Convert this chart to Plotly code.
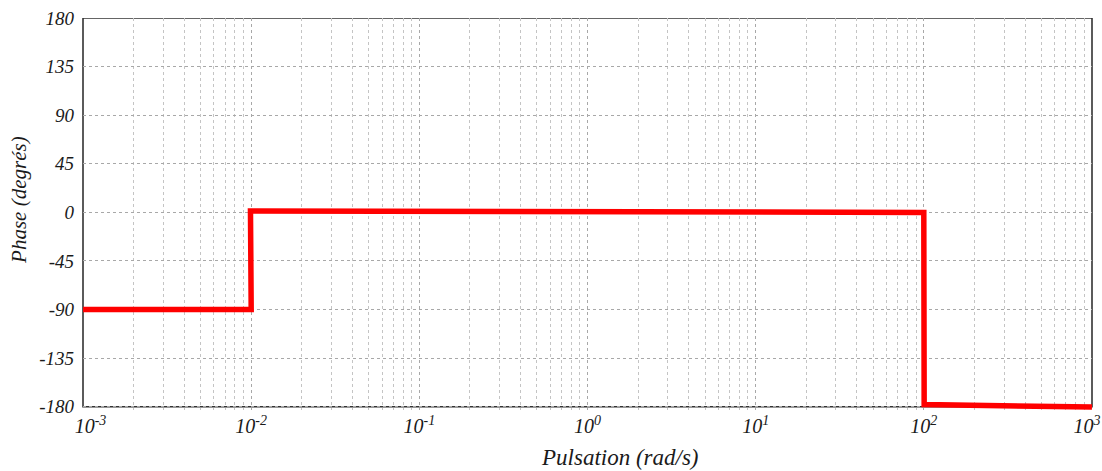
import plotly.graph_objects as go

# Data
omega = [0.001, 0.01, 0.0099, 100.0, 100.5, 1000.0]
phase = [-90, -90, 1.2, 0.0, -178.0, -180.3]

y_tick_vals = [-180, -135, -90, -45, 0, 45, 90, 135, 180]
y_tick_text = ["-180", "-135", "-90", "-45", "0", "45", "90", "135", "180"]
x_tick_vals = [1e-3, 1e-2, 1e-1, 1e0, 1e1, 1e2, 1e3]
x_tick_text = ["\u00a0\u00a0\u00a010<sup>-3</sup>", "10<sup>-2</sup>", "10<sup>-1</sup>", "10<sup>0</sup>",
               "10<sup>1</sup>", "10<sup>2</sup>", "10<sup>3</sup>\u00a0\u00a0"]
x_title = "Pulsation (rad/s)"
y_title = "Phase (degrés)"

FONT = "Liberation Serif"
GRID = "#a8a8a8"
MINOR = "#c4c4c4"
TXT = "#1a1a1a"

fig = go.Figure()
fig.add_trace(go.Scatter(
    x=omega, y=phase, mode="lines",
    line=dict(color="#ff0000", width=5.5),
    hoverinfo="skip", showlegend=False,
))

fig.update_layout(
    width=1102, height=471,
    margin=dict(l=83, r=10, t=18, b=61, autoexpand=False),
    paper_bgcolor="white", plot_bgcolor="white",
    font=dict(family=FONT, size=19, color=TXT),
    xaxis=dict(
        type="log", range=[-3.0003, 3.0003], automargin=False,
        tickvals=x_tick_vals, ticktext=x_tick_text,
        tickfont=dict(family=FONT, size=20, style="italic", color=TXT),
        showgrid=True, gridcolor=GRID, griddash="dot", gridwidth=1,
        minor=dict(showgrid=True, gridcolor=MINOR, griddash="dot", gridwidth=1,
                   dtick="D1"),
        showline=False, zeroline=False, ticks="",
        ticklabelstandoff=2, ticklabeloverflow="allow",
    ),
    yaxis=dict(
        range=[-183, 180], automargin=False,
        tickvals=y_tick_vals, ticktext=y_tick_text,
        tickfont=dict(family=FONT, size=19, style="italic", color=TXT),
        showgrid=True, gridcolor=GRID, griddash="dot", gridwidth=1,
        showline=False, zeroline=False, ticks="",
        ticklabelstandoff=8,
    ),
    shapes=[
        dict(type="rect", xref="paper", yref="y", x0=0, x1=1, y0=-180, y1=180,
             line=dict(color="#333", width=1.6), fillcolor="rgba(0,0,0,0)", layer="below"),
    ],
    annotations=[
        dict(text=x_title, xref="paper", yref="paper", x=0.532, y=-0.122,
             showarrow=False, font=dict(family=FONT, size=23, style="italic", color=TXT),
             xanchor="center", yanchor="middle"),
        dict(text=y_title, xref="paper", yref="paper", x=-0.0634, y=0.536,
             showarrow=False, textangle=-90,
             font=dict(family=FONT, size=21, style="italic", color=TXT),
             xanchor="center", yanchor="middle"),
    ],
)

fig.write_html("out.html")
